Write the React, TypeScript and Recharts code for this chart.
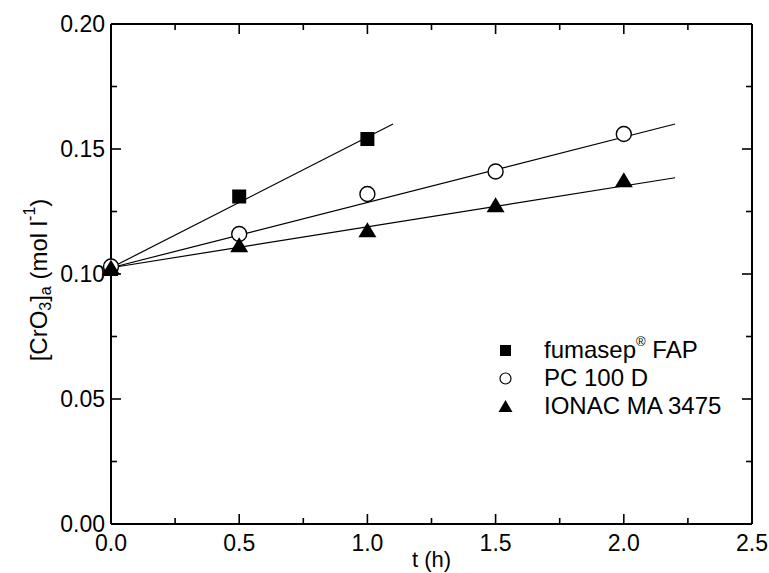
import React from 'react';
import { ComposedChart, XAxis, YAxis, Line, Scatter, Legend, ReferenceLine } from 'recharts';

// ---------- data ----------
const seriesNames = ['fumasep', 'PC 100 D', 'IONAC MA 3475'];

const timeFAP = [0, 0.5, 1.0];
const concFAP = [0.102, 0.131, 0.154];

const timePC = [0, 0.5, 1.0, 1.5, 2.0];
const concPC = [0.103, 0.116, 0.132, 0.141, 0.156];

const timeIONAC = [0, 0.5, 1.0, 1.5, 2.0];
const concIONAC = [0.102, 0.111, 0.117, 0.127, 0.137];

// fitted straight lines (end points)
const fitTimeFAP = [0, 1.1];
const fitConcFAP = [0.1025, 0.16];
const fitTimePC = [0, 2.2];
const fitConcPC = [0.1025, 0.16];
const fitTimeIONAC = [0, 2.2];
const fitConcIONAC = [0.1025, 0.1385];

const xTicks = [0, 0.25, 0.5, 0.75, 1.0, 1.25, 1.5, 1.75, 2.0, 2.25, 2.5];
const xTickLabels = ['0.0', '0.5', '1.0', '1.5', '2.0', '2.5'];
const yTicks = [0, 0.025, 0.05, 0.075, 0.1, 0.125, 0.15, 0.175, 0.2];
const yTickLabels = ['0.00', '0.05', '0.10', '0.15', '0.20'];

const toPoints = (xs: number[], ys: number[]) => xs.map((t, i) => ({ t, c: ys[i] }));

const dataFAP = toPoints(timeFAP, concFAP);
const dataPC = toPoints(timePC, concPC);
const dataIONAC = toPoints(timeIONAC, concIONAC);
const fitFAP = toPoints(fitTimeFAP, fitConcFAP);
const fitPC = toPoints(fitTimePC, fitConcPC);
const fitIONAC = toPoints(fitTimeIONAC, fitConcIONAC);

// ---------- layout ----------
const W = 769;
const H = 573;
const M_TOP = 24;
const M_RIGHT = 17;
const Y_AXIS_W = 111;
const X_AXIS_H = 49;
const PLOT_LEFT = Y_AXIS_W;
const PLOT_RIGHT = W - M_RIGHT;
const PLOT_TOP = M_TOP;
const PLOT_BOTTOM = H - X_AXIS_H;

const FONT = '"Liberation Sans", Arial, Helvetica, sans-serif';
const MAJOR = 10;
const MINOR = 6;
const TICK_W = 1.6;

const majorIndex = (v: number, step: number) => {
  const r = v / step;
  return Math.abs(r - Math.round(r)) < 1e-6 ? Math.round(r) : -1;
};

const BottomTick = (props: any) => {
  const { x, payload } = props;
  const idx = majorIndex(payload.value, 0.5);
  const len = idx >= 0 ? MAJOR : MINOR;
  return (
    <g>
      <line x1={x} y1={PLOT_BOTTOM} x2={x} y2={PLOT_BOTTOM - len} stroke="#000" strokeWidth={TICK_W} />
      <line x1={x} y1={PLOT_TOP} x2={x} y2={PLOT_TOP + len} stroke="#000" strokeWidth={TICK_W} />
      {idx >= 0 && (
        <text x={x} y={PLOT_BOTTOM + 19} textAnchor="middle" dominantBaseline="central" fontSize={23} fontFamily={FONT} fill="#000">
          {xTickLabels[idx]}
        </text>
      )}
    </g>
  );
};

const LeftTick = (props: any) => {
  const { y, payload } = props;
  const idx = majorIndex(payload.value, 0.05);
  const len = idx >= 0 ? MAJOR : MINOR;
  return (
    <g>
      <line x1={PLOT_LEFT} y1={y} x2={PLOT_LEFT + len} y2={y} stroke="#000" strokeWidth={TICK_W} />
      <line x1={PLOT_RIGHT} y1={y} x2={PLOT_RIGHT - len} y2={y} stroke="#000" strokeWidth={TICK_W} />
      {idx >= 0 && (
        <text x={PLOT_LEFT - 6} y={y} textAnchor="end" dominantBaseline="central" fontSize={23} fontFamily={FONT} fill="#000">
          {yTickLabels[idx]}
        </text>
      )}
    </g>
  );
};

const SquareShape = (props: any) => {
  const { cx, cy } = props;
  const s = 14;
  return <rect x={cx - s / 2} y={cy - s / 2} width={s} height={s} fill="#000" />;
};
const CircleShape = (props: any) => {
  const { cx, cy } = props;
  return <circle cx={cx} cy={cy} r={7.5} fill="#fff" stroke="#000" strokeWidth={1.4} />;
};
const TriangleShape = (props: any) => {
  const { cx, cy } = props;
  const w = 18;
  const h = 15;
  return (
    <polygon
      points={`${cx},${cy - h * 0.62} ${cx - w / 2},${cy + h * 0.38} ${cx + w / 2},${cy + h * 0.38}`}
      fill="#000"
    />
  );
};

const YTitle = () => {
  const cx = 38;
  const cy = 280;
  return (
    <text
      x={cx}
      y={cy}
      transform={`rotate(-90, ${cx}, ${cy})`}
      textAnchor="middle"
      dominantBaseline="central"
      fontSize={24}
      fontFamily={FONT}
      fill="#000"
    >
      <tspan>[CrO</tspan>
      <tspan fontSize={16} dy={7}>3</tspan>
      <tspan dy={-7}>]</tspan>
      <tspan fontSize={16} dy={7}>a</tspan>
      <tspan dy={-7}> (mol l</tspan>
      <tspan fontSize={16} dy={-9}>-1</tspan>
      <tspan dy={9}>)</tspan>
    </text>
  );
};

const XTitle = () => (
  <text
    x={(PLOT_LEFT + PLOT_RIGHT) / 2}
    y={PLOT_BOTTOM + 35}
    textAnchor="middle"
    dominantBaseline="central"
    fontSize={22}
    fontFamily={FONT}
    fill="#000"
  >
    t (h)
  </text>
);

const legendMarkers = [
  <rect key="s" x={4} y={4} width={11} height={11} fill="#000" />,
  <circle key="c" cx={9.5} cy={9.5} r={5.5} fill="#fff" stroke="#000" strokeWidth={1.2} />,
  <polygon key="t" points="9.5,3 2.5,15 16.5,15" fill="#000" />,
];

const LegendContent = () => (
  <div style={{ fontFamily: FONT, fontSize: 24, color: '#000', lineHeight: '28px' }}>
    {seriesNames.map((name, i) => (
      <div key={name} style={{ display: 'flex', alignItems: 'center', height: 28 }}>
        <svg width={19} height={19} style={{ marginRight: 29, flexShrink: 0 }}>
          {legendMarkers[i]}
        </svg>
        <span style={{ whiteSpace: 'nowrap' }}>
          {name}
          {i === 0 && (
            <>
              <sup style={{ fontSize: 13, lineHeight: '13px', position: 'relative', top: -3 }}>®</sup> FAP
            </>
          )}
        </span>
      </div>
    ))}
  </div>
);

export default function App() {
  return (
    <div style={{ position: 'absolute', left: 0, top: 0, width: W, height: H, background: '#fff' }}>
      <ComposedChart width={W} height={H} margin={{ top: M_TOP, right: M_RIGHT, bottom: 0, left: 0 }}>
        <XAxis
          dataKey="t"
          type="number"
          domain={[0, 2.5]}
          ticks={xTicks}
          interval={0}
          height={X_AXIS_H}
          tickSize={0}
          tickMargin={0}
          tickLine={false}
          axisLine={{ stroke: '#000', strokeWidth: 2 }}
          tick={<BottomTick />}
          label={{ content: <XTitle /> }}
        />
        <YAxis
          dataKey="c"
          type="number"
          domain={[0, 0.2]}
          ticks={yTicks}
          interval={0}
          width={Y_AXIS_W}
          tickSize={0}
          tickMargin={0}
          tickLine={false}
          axisLine={{ stroke: '#000', strokeWidth: 2 }}
          tick={<LeftTick />}
          label={{ content: <YTitle /> }}
        />
        <ReferenceLine y={0.2} stroke="#000" strokeWidth={2} />
        <ReferenceLine x={2.5} stroke="#000" strokeWidth={2} />
        <Line data={fitFAP} dataKey="c" stroke="#000" strokeWidth={1.2} dot={false} isAnimationActive={false} legendType="none" />
        <Line data={fitPC} dataKey="c" stroke="#000" strokeWidth={1.2} dot={false} isAnimationActive={false} legendType="none" />
        <Line data={fitIONAC} dataKey="c" stroke="#000" strokeWidth={1.2} dot={false} isAnimationActive={false} legendType="none" />
        <Scatter data={dataFAP} dataKey="c" shape={<SquareShape />} isAnimationActive={false} />
        <Scatter data={dataPC} dataKey="c" shape={<CircleShape />} isAnimationActive={false} />
        <Scatter data={dataIONAC} dataKey="c" shape={<TriangleShape />} isAnimationActive={false} />
        <Legend
          layout="horizontal"
          verticalAlign="middle"
          align="center"
          content={<LegendContent />}
          wrapperStyle={{ position: 'absolute', left: 496, top: 336, width: 270 }}
        />
      </ComposedChart>
    </div>
  );
}
